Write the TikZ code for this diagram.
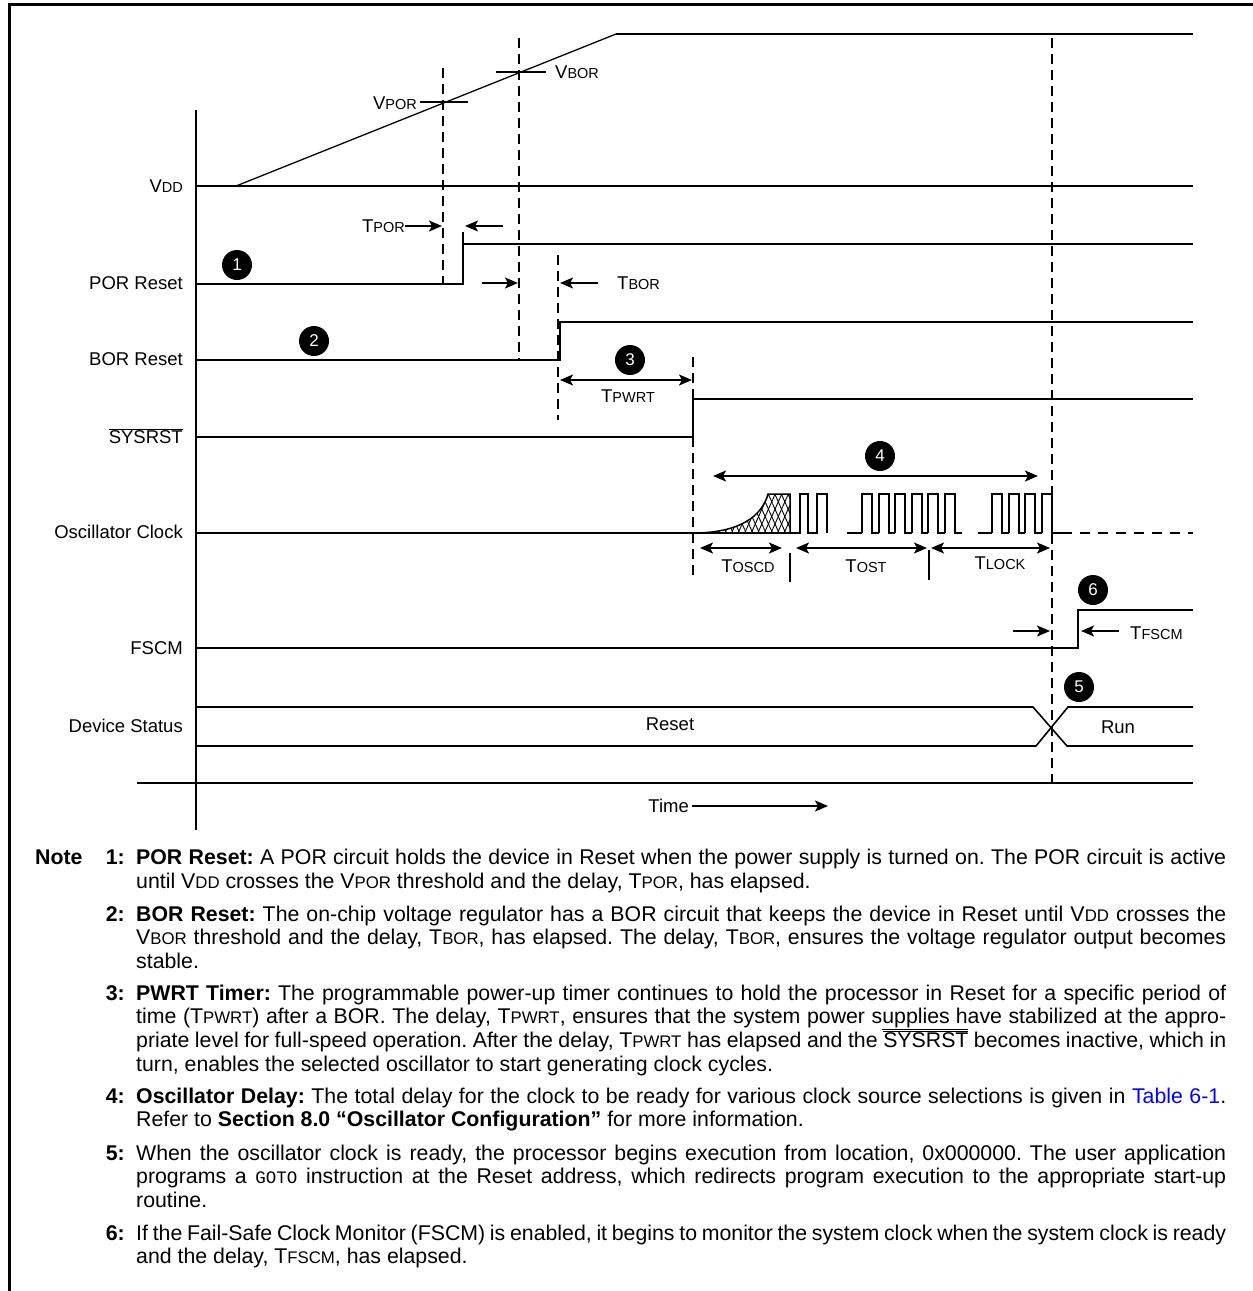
\documentclass[tikz,border=0pt]{standalone}
\usepackage{fontspec}
\setmainfont{Liberation Sans}
\setmonofont{Liberation Mono}
\usetikzlibrary{arrows.meta,patterns.meta}
\newcommand\dsub[1]{{\fontsize{14.5}{14.5}\selectfont #1}}
\newcommand\nsub[1]{{\fontsize{16.8}{16.8}\selectfont #1}}
\newcommand\jl[1]{\hbox to 1090pt{\frenchspacing\spaceskip=.278em plus .5em minus .13em\relax #1}}
\newcommand\ovl[1]{$\overline{\mbox{#1}}$}
\begin{document}
\begin{tikzpicture}[x=1pt,y=-1pt,
  sig/.style={line width=2pt},
  dsh/.style={line width=2pt, dash pattern=on 10pt off 6pt},
  lbl/.style={font=\fontsize{18.5}{22}\selectfont, inner sep=0pt},
  num/.style={circle, fill=black, text=white, minimum size=30pt, inner sep=0pt, font=\fontsize{17}{17}\selectfont},
  arr/.style={line width=1.8pt, -{Stealth[length=13pt,width=11pt,inset=3pt]}},
  darr/.style={line width=1.8pt, {Stealth[length=13pt,width=11pt,inset=3pt]}-{Stealth[length=13pt,width=11pt,inset=3pt]}},
  note/.style={font=\fontsize{21.3}{23.7}\selectfont, inner sep=0pt, anchor=base west},
  nnum/.style={font=\fontsize{21.3}{23.7}\selectfont\bfseries, inner sep=0pt, anchor=base east}]
\useasboundingbox (0,0) rectangle (1253,1291);
% frame
\draw[line width=3pt] (9,1291) -- (9,4) -- (1253,4);
% axes
\draw[sig] (196,110) -- (196,830);
\draw[sig] (137,783) -- (1193,783);
% dashed verticals
\draw[dsh] (443,68) -- (443,284);
\draw[dsh] (519,38) -- (519,360);
\draw[dsh] (558,255) -- (558,420);
\draw[dsh] (693,357) -- (693,580);
\draw[dsh] (1052,38) -- (1052,783);
% signal labels
\node[lbl, anchor=base east] (lvdd) at (183,192.6) {V\dsub{DD}};
\node[lbl, anchor=base east] (lpor) at (183,289.6) {POR Reset};
\node[lbl, anchor=base east] (lbor) at (183,365.6) {BOR Reset};
\node[lbl, anchor=base east] (lsys) at (183,443.6) {\ovl{SYSRST}};
\node[lbl, anchor=base east] (losc) at (183,538.6) {Oscillator Clock};
\node[lbl, anchor=base east] (lfscm) at (183,654.6) {FSCM};
\node[lbl, anchor=base east] (ldev) at (183,732.6) {Device Status};
% VDD
\draw[sig] (196,186) -- (1193,186);
\draw[line width=1.3pt] (236,186) -- (616,34);
\draw[sig] (616,34) -- (1193,34);
\draw[sig] (420,102) -- (468,102);
\draw[sig] (496,72) -- (546,72);
\node[lbl, anchor=base east] (vpor) at (417,109.6) {V\dsub{POR}};
\node[lbl, anchor=base west] (vbor) at (555,78.6) {V\dsub{BOR}};
% POR
\draw[sig] (196,284) -- (463,284) -- (463,244) -- (1193,244);
\draw[line width=1.2pt] (463,244) -- (463,232);
\node[lbl, anchor=base east] (tpor) at (405,232.6) {T\dsub{POR}};
\draw[arr] (405,226) -- (442,226);
\draw[arr] (503,226) -- (465,226);
% BOR
\draw[sig] (196,360) -- (560,360) -- (560,322) -- (1193,322);
\draw[arr] (482,283) -- (518,283);
\draw[arr] (598,283) -- (560,283);
\node[lbl, anchor=base west] (tbor) at (617,289.6) {T\dsub{BOR}};
% SYSRST
\draw[sig] (196,437) -- (693,437) -- (693,399) -- (1193,399);
\draw[darr] (560,380) -- (692,380);
\node[lbl, anchor=base] (tpwrt) at (628,402.6) {T\dsub{PWRT}};
% Oscillator
\path[pattern={Lines[angle=66,distance=6pt,line width=0.9pt]}] (693,533) .. controls (740,533) and (762,516) .. (768,494) -- (790,494) -- (790,533) -- cycle;
\path[pattern={Lines[angle=114,distance=6pt,line width=0.9pt]}] (693,533) .. controls (740,533) and (762,516) .. (768,494) -- (790,494) -- (790,533) -- cycle;
\draw[line width=1.5pt] (693,533) .. controls (740,533) and (762,516) .. (768,494) -- (790,494) -- (790,533);
\draw[sig] (196,533) -- (800,533) -- (800,494) -- (808,494) -- (808,533) -- (817,533) -- (817,494) -- (827,494) -- (827,533);
\draw[sig] (847,533) -- (862,533);
\foreach \i in {0,...,5} { \draw[sig, line join=miter] ({862+16.6*\i},533) -- ++(0,-39) -- ++(10,0) -- ++(0,39) -- ++(6.6,0); }
\draw[sig] (978,533) -- (992,533);
\foreach \i in {0,...,3} { \draw[sig, line join=miter] ({992+16.6*\i},533) -- ++(0,-39) -- ++(10,0) -- ++(0,39) -- ++(6.6,0); }
\draw[sig] (1058,533) -- (1062,533);
\draw[line width=2pt, dash pattern=on 10pt off 8pt] (1062,533) -- (1193,533);
\draw[darr] (713,476) -- (1038,476);
\draw[darr] (700,548) -- (782,548);
\draw[darr] (796,548) -- (927,548);
\draw[darr] (931,548) -- (1050,548);
\draw[sig] (790,553) -- (790,582);
\draw[sig] (929,550) -- (929,580);
\node[lbl, anchor=base] (toscd) at (748,572.6) {T\dsub{OSCD}};
\node[lbl, anchor=base] (tost) at (866,572.6) {T\dsub{OST}};
\node[lbl, anchor=base] (tlock) at (1000,569.6) {T\dsub{LOCK}};
% FSCM
\draw[sig] (196,648) -- (1078,648) -- (1078,610) -- (1193,610);
\draw[arr] (1013,631) -- (1050,631);
\draw[arr] (1119,631) -- (1081,631);
\node[lbl, anchor=base west] (tfscm) at (1130,639.6) {T\dsub{FSCM}};
% Device status
\draw[line width=1.6pt] (196,707) -- (1033,707) -- (1067,746) -- (1193,746);
\draw[line width=1.6pt] (196,746) -- (1036,746) -- (1068,707) -- (1193,707);
\node[lbl, anchor=base] (reset) at (670,730.6) {Reset};
\node[lbl, anchor=base] (run) at (1118,733.6) {Run};
% time
\node[lbl, anchor=base east] (time) at (689,812.6) {Time};
\coordinate (tend) at (828,806);
\draw[line width=1.6pt, -{Stealth[length=13pt,width=11pt,inset=3pt]}] (692,806) -- (tend);
% numbered circles
\node[num] (c1) at (237,265) {1};
\node[num] (c2) at (314,341) {2};
\node[num] (c3) at (630,360) {3};
\node[num] (c4) at (880,456) {4};
\node[num] (c5) at (1079,687) {5};
\node[num] (c6) at (1093,590) {6};
% notes
\node[note, font=\fontsize{21.3}{23.7}\selectfont\bfseries] (nnote) at (35,864) {Note};
\node[nnum] (k1) at (125,864) {1:};
\node[note] (n1a) at (136,864) {\jl{\textbf{POR Reset:} A POR circuit holds the device in Reset when the power supply is turned on. The POR circuit is active}};
\node[note] (n1b) at (136,888) {until V\nsub{DD} crosses the V\nsub{POR} threshold and the delay, T\nsub{POR}, has elapsed.};
\node[nnum] (k2) at (125,921) {2:};
\node[note] (n2a) at (136,921) {\jl{\textbf{BOR Reset:} The on-chip voltage regulator has a BOR circuit that keeps the device in Reset until V\nsub{DD} crosses the}};
\node[note] (n2b) at (136,944.7) {\jl{V\nsub{BOR} threshold and the delay, T\nsub{BOR}, has elapsed. The delay, T\nsub{BOR}, ensures the voltage regulator output becomes}};
\node[note] (n2c) at (136,968.4) {stable.};
\node[nnum] (k3) at (125,1000) {3:};
\node[note] (n3a) at (136,1000) {\jl{\textbf{PWRT Timer:} The programmable power-up timer continues to hold the processor in Reset for a specific period of}};
\node[note] (n3b) at (136,1023.7) {\jl{time (T\nsub{PWRT}) after a BOR. The delay, T\nsub{PWRT}, ensures that the system power s\underline{upplies h}ave stabilized at the appro-}};
\node[note] (n3c) at (136,1047.4) {\jl{priate level for full-speed operation. After the delay, T\nsub{PWRT} has elapsed and the \ovl{SYSRST} becomes inactive, which in}};
\node[note] (n3d) at (136,1071.1) {turn, enables the selected oscillator to start generating clock cycles.};
\node[nnum] (k4) at (125,1103) {4:};
\node[note] (n4a) at (136,1103) {\jl{\textbf{Oscillator Delay:} The total delay for the clock to be ready for various clock source selections is given in \textcolor{blue}{Table 6-1}.}};
\node[note] (n4b) at (136,1126.7) {Refer to \textbf{Section 8.0 “Oscillator Configuration”} for more information.};
\node[nnum] (k5) at (125,1160) {5:};
\node[note] (n5a) at (136,1160) {\jl{When the oscillator clock is ready, the processor begins execution from location, 0x000000. The user application}};
\node[note] (n5b) at (136,1183.7) {\jl{programs a {\ttfamily\fontsize{17.5}{17.5}\selectfont GOTO} instruction at the Reset address, which redirects program execution to the appropriate start-up}};
\node[note] (n5c) at (136,1207.4) {routine.};
\node[nnum] (k6) at (125,1240) {6:};
\node[note] (n6a) at (136,1240) {\jl{If the Fail-Safe Clock Monitor (FSCM) is enabled, it begins to monitor the system clock when the system clock is ready}};
\node[note] (n6b) at (136,1263.7) {and the delay, T\nsub{FSCM}, has elapsed.};
\end{tikzpicture}
\end{document}
